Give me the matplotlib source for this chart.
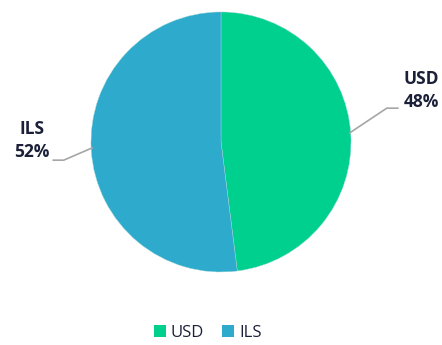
import matplotlib.pyplot as plt
from matplotlib.patches import Patch

categories = ['USD', 'ILS']
shares = [48, 52]
colors = ['#00D08E', '#2EAACC']
text_color = '#1B2038'

fig = plt.figure(figsize=(4.42, 3.45), dpi=100)
ax = fig.add_axes([0, 0, 1, 1])

wedges, _ = ax.pie(shares, colors=colors, startangle=90, counterclock=False,
                   radius=1, center=(0, 0),
                   wedgeprops=dict(linewidth=0.3, edgecolor='#9AD6D6'))

# label text and leader lines (pixel scale: 130 px per unit)
ax.text(1.54, 0.395, 'USD\n48%', ha='center', va='center', fontsize=12.5,
        fontweight='bold', color=text_color, family='Open Sans', linespacing=1.4)
ax.plot([0.99, 1.275, 1.36], [0.07, 0.26, 0.26], color='#A6A6A6', lw=1.2)

ax.text(-1.455, 0.01, 'ILS\n52%', ha='center', va='center', fontsize=12.5,
        fontweight='bold', color=text_color, family='Open Sans', linespacing=1.4)
ax.plot([-1.29, -1.21, -0.99], [-0.14, -0.14, -0.045], color='#A6A6A6', lw=1.2)

handles = [Patch(facecolor=c, edgecolor='none') for c in colors]
ax.legend(handles, categories, loc='center', bbox_to_anchor=(0.47, 0.035),
          ncol=2, frameon=False, handlelength=0.7, handleheight=0.7,
          handletextpad=0.3, columnspacing=1.1, labelcolor=text_color,
          prop=dict(family='Open Sans', size=12))

ax.set_xlim(-1.7, 1.7)
ax.set_ylim(-1.5615, 1.092)
ax.set_aspect('equal')
ax.axis('off')

fig.savefig('out.png', dpi=100)
